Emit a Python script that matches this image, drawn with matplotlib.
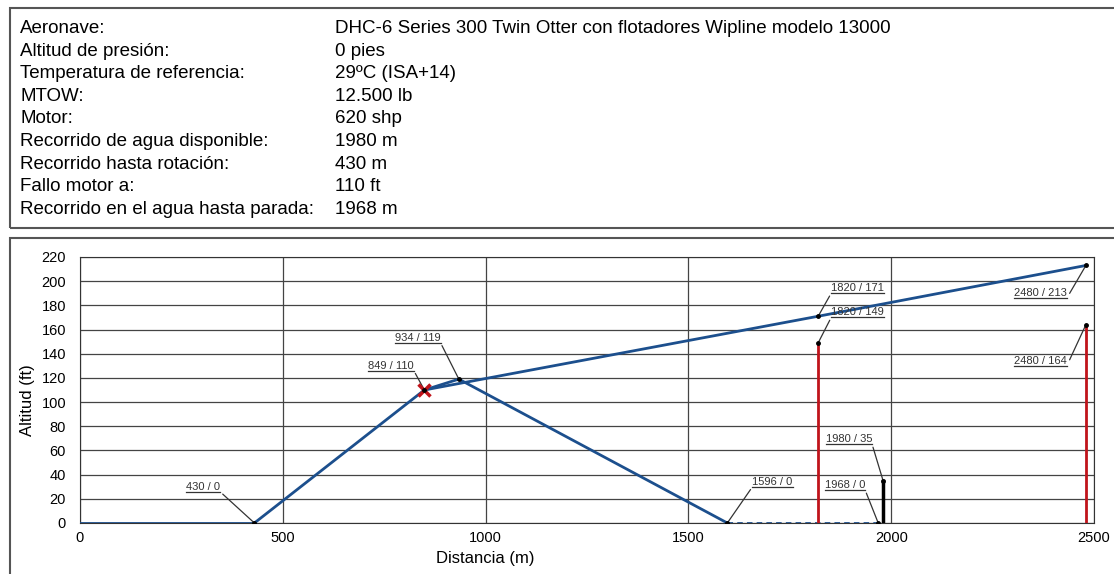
import matplotlib
matplotlib.use('Agg')
import matplotlib.pyplot as plt
import matplotlib.text as mtext
from matplotlib.patches import Rectangle

plt.rcParams['font.family'] = ['Liberation Sans', 'DejaVu Sans']

# header table
info_keys = ['Aeronave:', 'Altitud de presión:', 'Temperatura de referencia:', 'MTOW:',
             'Motor:', 'Recorrido de agua disponible:', 'Recorrido hasta rotación:',
             'Fallo motor a:', 'Recorrido en el agua hasta parada:']
info_vals = ['DHC-6 Series 300 Twin Otter con flotadores Wipline modelo 13000', '0 pies',
             '29ºC (ISA+14)', '12.500 lb', '620 shp', '1980 m', '430 m', '110 ft', '1968 m']

# trajectory data (distance m / altitude ft)
ground_x = [0, 430]
ground_y = [0, 0]
climb_x = [430, 849]
climb_y = [0, 110]
oei_x = [849, 1820, 2480]
oei_y = [110, 171, 213]
abort_x = [849, 934, 1596]
abort_y = [110, 119, 0]
stop_x = [1596, 1968]
stop_y = [0, 0]
red_bars_x = [1820, 2480]
red_bars_y = [149, 164]
black_bar_x = 1980
black_bar_y = 35
fail_x, fail_y = 849, 110

# labels: text, point, text anchor, side the leader leaves from
labels = [
    ('430 / 0', (430, 0), (345, 26), 'right'),
    ('849 / 110', (849, 110), (823, 126), 'right'),
    ('934 / 119', (934, 119), (889, 149), 'right'),
    ('1596 / 0', (1596, 0), (1658, 30), 'left'),
    ('1820 / 171', (1820, 171), (1852, 190), 'left'),
    ('1820 / 149', (1820, 149), (1852, 170), 'left'),
    ('1980 / 35', (1980, 35), (1953, 65), 'right'),
    ('1968 / 0', (1968, 0), (1936, 27), 'right'),
    ('2480 / 213', (2480, 213), (2433, 186), 'right'),
    ('2480 / 164', (2480, 164), (2433, 130), 'right'),
]

BLUE = '#1c4f8d'
RED = '#c0141b'

fig = plt.figure(figsize=(11.14, 5.74), dpi=100)

# boxes
fig.patches.append(Rectangle((10 / 1114, 1 - 228 / 574), 1110 / 1114, 220 / 574,
                             transform=fig.transFigure, fill=False, ec='#555555', lw=1.5))
fig.patches.append(Rectangle((10 / 1114, -0.01), 1110 / 1114, 1 - 238 / 574 + 0.01,
                             transform=fig.transFigure, fill=False, ec='#555555', lw=1.5))

for i, (k, v) in enumerate(zip(info_keys, info_vals)):
    y = 1 - (28.5 + i * 22.6) / 574
    fig.text(20 / 1114, y, k, fontsize=13.5, va='center', ha='left')
    fig.text(335 / 1114, y, v, fontsize=13.5, va='center', ha='left')

ax = fig.add_axes([80 / 1114, 51 / 574, 1014 / 1114, 266 / 574])
ax.set_xlim(0, 2500)
ax.set_ylim(0, 220)
ax.set_xticks(range(0, 2501, 500))
ax.set_yticks(range(0, 221, 20))
ax.grid(True, color='#444444', lw=0.9)
ax.set_axisbelow(True)
ax.tick_params(length=0, labelsize=10.5)
ax.tick_params(axis='y', pad=10)
ax.tick_params(axis='x', pad=6)
for s in ax.spines.values():
    s.set_color('#333333')
ax.set_xlabel('Distancia (m)', fontsize=12)
ax.set_ylabel('Altitud (ft)', fontsize=12)
ax.xaxis.set_label_coords(0.40, -0.105)
ax.yaxis.set_label_coords(-0.044, 0.462)

ax.plot(ground_x, ground_y, color=BLUE, lw=2, zorder=3)
ax.plot(climb_x, climb_y, color=BLUE, lw=2, zorder=3)
ax.plot(oei_x, oei_y, color=BLUE, lw=2, zorder=3)
ax.plot(abort_x, abort_y, color=BLUE, lw=2, zorder=3)
ax.plot(stop_x, stop_y, color=BLUE, lw=2, ls=(0, (2, 1.5)), zorder=3)
for bx, by in zip(red_bars_x, red_bars_y):
    ax.plot([bx, bx], [0, by], color=RED, lw=2, zorder=3)
ax.plot([black_bar_x, black_bar_x], [0, black_bar_y], color='black', lw=2.5, zorder=3)
ax.plot(fail_x, fail_y, marker='x', color=RED, ms=9, mew=2.5, zorder=5)

texts = []
for txt, pt, tpos, side in labels:
    ha = 'right' if side == 'right' else 'left'
    rel = (1, 0) if side == 'right' else (0, 0)
    a = ax.annotate(txt, xy=pt, xytext=tpos, textcoords='data', fontsize=8,
                    ha=ha, va='bottom', color='#333333',
                    arrowprops=dict(arrowstyle='-', relpos=rel, shrinkA=0, shrinkB=0,
                                    color='#333333', lw=0.9))
    ax.plot(*pt, marker='o', ms=2.5, color='black', zorder=6)
    texts.append(a)

fig.canvas.draw()
renderer = fig.canvas.get_renderer()
inv = ax.transData.inverted()
for a in texts:
    bb = mtext.Text.get_window_extent(a, renderer)
    (x0, y0), (x1, _) = inv.transform([(bb.x0, bb.y0), (bb.x1, bb.y0)])
    ax.plot([x0, x1], [y0, y0], color='#333333', lw=0.9, clip_on=False)

fig.savefig('out.png', dpi=100)
